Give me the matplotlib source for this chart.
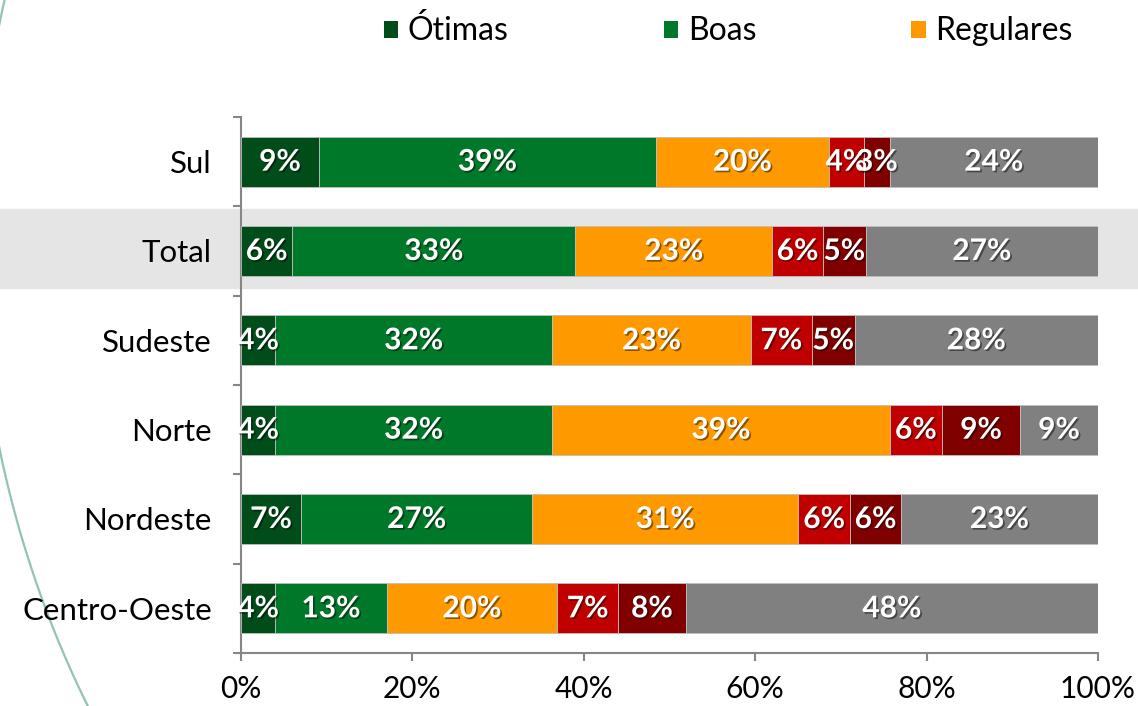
import matplotlib
matplotlib.use("Agg")
import matplotlib.pyplot as plt
import matplotlib.patheffects as pe
from matplotlib.transforms import blended_transform_factory
from matplotlib.patches import Rectangle, Patch
from matplotlib.lines import Line2D
import numpy as np

plt.rcParams['font.family'] = ['Lato', 'DejaVu Sans']

categories = ["Sul", "Total", "Sudeste", "Norte", "Nordeste", "Centro-Oeste"]
series_names = ["Ótimas", "Boas", "Regulares", "Ruins", "Péssimas", "NS/NR"]
otimas    = [9.1, 6.0, 4.0, 4.0, 7.0, 4.0]
boas      = [39.3, 33.0, 32.3, 32.3, 27.0, 13.0]
regulares = [20.2, 23.0, 23.2, 39.4, 31.0, 19.9]
ruins     = [4.1, 5.9, 7.1, 6.1, 6.1, 7.1]
pessimas  = [3.0, 5.0, 5.0, 9.1, 5.9, 7.9]
ns_nr     = [24.3, 27.1, 28.4, 9.1, 23.0, 48.1]
x_ticks = [0, 20, 40, 60, 80, 100]
x_tick_labels = ["0%", "20%", "40%", "60%", "80%", "100%"]

colors = ["#004d1a", "#00782a", "#ff9900", "#c00000", "#800000", "#808080"]
series = [otimas, boas, regulares, ruins, pessimas, ns_nr]

W, H = 1138, 706
fig = plt.figure(figsize=(W / 100, H / 100), dpi=100)
ax = fig.add_axes([241 / W, 1 - 653 / H, (1098 - 241) / W, (653 - 117) / H])
ax.set_facecolor('none')
ax.set_zorder(2)

y = np.arange(len(categories))
left = np.zeros(len(categories))
shadow = [pe.SimplePatchShadow(offset=(1.2, -1.2), shadow_rgbFace='black', alpha=0.45), pe.Normal()]
for vals, col, name in zip(series, colors, series_names):
    vals = np.array(vals)
    ax.barh(y, vals, left=left, height=0.56, color=col, edgecolor='#bfbfbf',
            linewidth=0.6, label=name, zorder=3)
    for yi, (l, v) in enumerate(zip(left, vals)):
        ax.text(l + v / 2, yi, f"{round(v):.0f}%", ha='center', va='center',
                color='white', fontsize=21.5, fontweight='bold', zorder=5,
                path_effects=shadow)
    left = left + vals

ax.set_xlim(0, 100)
ax.set_ylim(len(categories) - 0.5, -0.5)

# highlight band for Total row
ti = categories.index("Total")
trans = blended_transform_factory(fig.transFigure, ax.transData)
band = Rectangle((0, ti - 0.47), 1, 0.88, transform=trans, color='#e5e5e5',
                 zorder=-5, clip_on=False)
fig.add_artist(band)

ax.set_xticks(x_ticks)
ax.set_xticklabels(x_tick_labels, fontsize=21.5)
ax.set_yticks(np.arange(-0.5, len(categories), 1.0))
ax.set_yticklabels([])
ax.set_yticks(y, minor=True)
ax.set_yticklabels(categories, minor=True, fontsize=22.5)
ax.tick_params(axis='y', which='minor', length=0, pad=21)
ax.tick_params(axis='y', which='major', length=6, width=1.5, color='#868686', direction='out')
ax.tick_params(axis='x', length=6, width=1.5, color='#868686', direction='out', pad=10)
for s in ['top', 'right']:
    ax.spines[s].set_visible(False)
for s in ['left', 'bottom']:
    ax.spines[s].set_color('#868686')
    ax.spines[s].set_linewidth(1.5)

# legend (only first three entries visible)
handles = [Patch(facecolor=c) for c in colors[:3]]
leg = fig.legend(handles, series_names[:3], loc='center left',
                 bbox_to_anchor=(384 / W, 1 - 31 / H), ncol=3, frameon=False,
                 fontsize=23, handlelength=0.45, handleheight=0.45,
                 handletextpad=0.3, columnspacing=4.85, borderpad=0, borderaxespad=0)

# decorative arc
cx, cy, r = 1039, 236, 1061
th = np.linspace(np.pi - 0.35, np.pi + 0.5, 400)
xs = cx + r * np.cos(th)
ys = cy - r * np.sin(th)
fig.add_artist(Line2D(xs / W, 1 - ys / H, transform=fig.transFigure, color='#93c3b8',
                      linewidth=1.6, zorder=1))

fig.savefig("out.png", dpi=100)
